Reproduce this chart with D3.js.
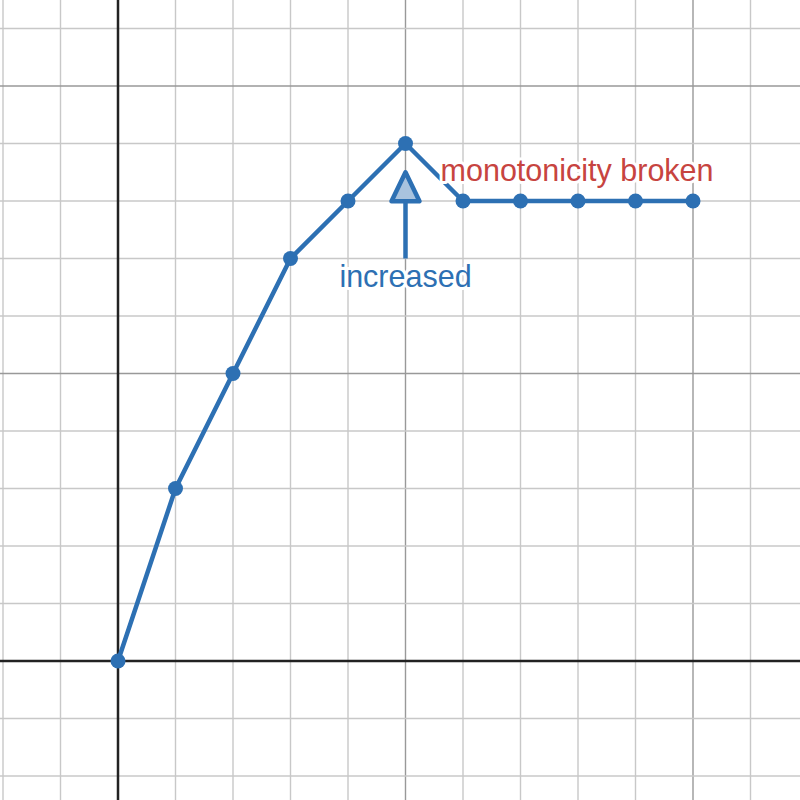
<!DOCTYPE html>
<html>
<head>
<meta charset="utf-8">
<script src="https://cdn.jsdelivr.net/npm/d3@7"></script>
<style>
  html, body { margin: 0; padding: 0; background: #fff; }
  svg { display: block; }
</style>
</head>
<body>
<div id="chart"></div>
<script>
// Data
const xValues = [0, 1, 2, 3, 4, 5, 6, 7, 8, 9, 10];
const yValues = [0, 3, 5, 7, 8, 9, 8, 8, 8, 8, 8];

// annotation: arrow from (5,7) up to (5,8.5)
const arrowFrom = [5, 7];
const arrowTo = [5, 8.5];
const labels = [
  { text: 'increased', x: 5, y: 6.5, anchor: 'middle', color: '#2d70b3' },
  { text: 'monotonicity broken', x: 5.61, y: 8.35, anchor: 'start', color: '#c74440' }
];

const width = 800, height = 800;
const unit = 57.5;          // pixels per grid unit
const originX = 118, originY = 661;

const xScale = d3.scaleLinear()
  .domain([-originX / unit, (width - originX) / unit])
  .range([0, width]);
const yScale = d3.scaleLinear()
  .domain([-(height - originY) / unit, originY / unit])
  .range([height, 0]);

const svg = d3.select('#chart')
  .append('svg')
  .attr('width', width)
  .attr('height', height);

// Grid
const xTicks = d3.range(Math.ceil(xScale.domain()[0]), Math.floor(xScale.domain()[1]) + 1);
const yTicks = d3.range(Math.ceil(yScale.domain()[0]), Math.floor(yScale.domain()[1]) + 1);

const grid = svg.append('g').attr('class', 'grid');
const lineColor = v => v % 5 === 0 ? '#999' : '#c8c8c8';

grid.selectAll('.vgrid')
  .data(xTicks.filter(v => v !== 0))
  .enter().append('line')
  .attr('x1', d => xScale(d)).attr('x2', d => xScale(d))
  .attr('y1', 0).attr('y2', height)
  .attr('stroke', lineColor)
  .attr('stroke-width', 1.4);

grid.selectAll('.hgrid')
  .data(yTicks.filter(v => v !== 0))
  .enter().append('line')
  .attr('y1', d => yScale(d)).attr('y2', d => yScale(d))
  .attr('x1', 0).attr('x2', width)
  .attr('stroke', lineColor)
  .attr('stroke-width', 1.4);

// Axes
svg.append('line')
  .attr('x1', 0).attr('x2', width)
  .attr('y1', yScale(0)).attr('y2', yScale(0))
  .attr('stroke', '#222').attr('stroke-width', 2.5);
svg.append('line')
  .attr('x1', xScale(0)).attr('x2', xScale(0))
  .attr('y1', 0).attr('y2', height)
  .attr('stroke', '#222').attr('stroke-width', 2.5);

// Series
const points = xValues.map((x, i) => [x, yValues[i]]);
const line = d3.line()
  .x(d => xScale(d[0]))
  .y(d => yScale(d[1]));

svg.append('path')
  .datum(points)
  .attr('d', line)
  .attr('fill', 'none')
  .attr('stroke', '#2d70b3')
  .attr('stroke-width', 4.5)
  .attr('stroke-linejoin', 'round');

svg.selectAll('.pt')
  .data(points)
  .enter().append('circle')
  .attr('cx', d => xScale(d[0]))
  .attr('cy', d => yScale(d[1]))
  .attr('r', 7.5)
  .attr('fill', '#2d70b3');

// Arrow
const ax = xScale(arrowFrom[0]);
const headLen = 29, headHalf = 14;
const tipY = yScale(arrowTo[1]);
svg.append('line')
  .attr('x1', ax).attr('x2', ax)
  .attr('y1', yScale(arrowFrom[1]))
  .attr('y2', tipY + headLen)
  .attr('stroke', '#2d70b3')
  .attr('stroke-width', 4.5);
svg.append('path')
  .attr('d', `M${ax},${tipY} L${ax + headHalf},${tipY + headLen} L${ax - headHalf},${tipY + headLen} Z`)
  .attr('fill', '#a9c3de')
  .attr('stroke', '#2d70b3')
  .attr('stroke-width', 4.5)
  .attr('stroke-linejoin', 'round');

// Labels with white halo
svg.selectAll('.label')
  .data(labels)
  .enter().append('text')
  .attr('x', d => xScale(d.x))
  .attr('y', d => yScale(d.y))
  .attr('text-anchor', d => d.anchor)
  .attr('fill', d => d.color)
  .attr('stroke', '#fff')
  .attr('stroke-width', 6)
  .attr('stroke-linejoin', 'round')
  .attr('paint-order', 'stroke')
  .style('font-family', '"Liberation Sans", Arial, sans-serif')
  .style('font-size', '30.5px')
  .text(d => d.text);
</script>
</body>
</html>
